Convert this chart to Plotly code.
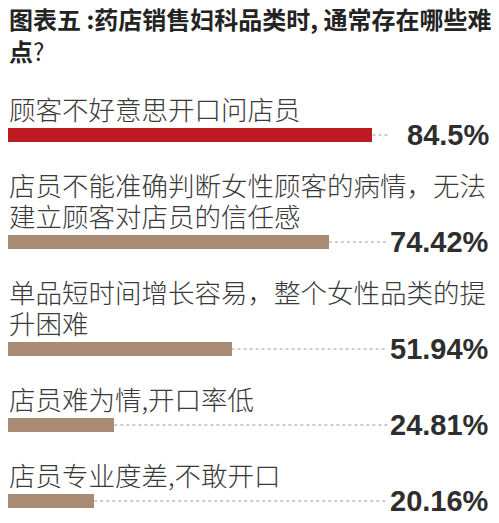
import plotly.graph_objects as go

# chart text and values
title_lines = ["图表五 :药店销售妇科品类时, 通常存在哪些难",
               "点<span style='font-weight:normal'>?</span>"]
categories = [
    "顾客不好意思开口问店员",
    "店员不能准确判断女性顾客的病情，无法<br>建立顾客对店员的信任感",
    "单品短时间增长容易，整个女性品类的提<br>升困难",
    "店员难为情,开口率低",
    "店员专业度差,不敢开口",
]
values = [84.5, 74.42, 51.94, 24.81, 20.16]
value_labels = ["84.5%", "74.42%", "51.94%", "24.81%", "20.16%"]

W, H = 499, 523
pad = 8  # page body margin around the figure
FW, FH = W - 2 * pad, H - 2 * pad

px_per_pct = 4.325
x0_px = 7  # where 0% sits in the page
x_lo = (pad - x0_px) / px_per_pct
x_hi = (pad + FW - x0_px) / px_per_pct
dot_end = (388 - x0_px) / px_per_pct


def px(xp):
    # page x pixel -> paper fraction
    return (xp - pad) / FW


# vertical layout in page pixels (y axis runs top to bottom)
line_h = 31.5
bar_y = []
y = 135
for i, cat in enumerate(categories):
    n = cat.count("<br>") + 1
    if i > 0:
        y += 45 + 31 * n
    bar_y.append(y)

colors = ["#bd1a22"] + ["#a98b74"] * (len(values) - 1)

fig = go.Figure()
fig.add_trace(go.Bar(
    x=values, y=bar_y, orientation="h", width=13.5,
    marker=dict(color=colors, line=dict(width=0)),
    hoverinfo="skip", showlegend=False,
))

annotations = []
# title
for k, t in enumerate(title_lines):
    annotations.append(dict(
        x=px(7), xref="paper", xanchor="left",
        y=18.5 + k * 32, yref="y", yanchor="middle",
        text=t, showarrow=False,
        font=dict(family="Noto Sans CJK SC", size=24, color="#232323", weight="bold"),
    ))

shapes = []
for cat, v, lab, by in zip(categories, values, value_labels, bar_y):
    lines = cat.split("<br>")
    for k, ln in enumerate(lines):
        ly = by - 26.5 - line_h * (len(lines) - 1 - k)
        annotations.append(dict(
            x=px(7), xref="paper", xanchor="left",
            y=ly, yref="y", yanchor="middle",
            text=ln, showarrow=False,
            font=dict(family="Noto Sans CJK SC", size=26.5, color="#3a3a3a", weight=300),
        ))
    annotations.append(dict(
        x=px(491), xref="paper", xanchor="right",
        y=by - 0.5, yref="y", yanchor="middle",
        text=lab, showarrow=False,
        font=dict(family="Liberation Sans", size=29, color="#2e2e2e", weight="bold"),
    ))
    shapes.append(dict(
        type="line", x0=v, x1=dot_end, y0=by, y1=by, xref="x", yref="y",
        line=dict(color="#9a9a9a", width=1, dash="dot"),
    ))

fig.update_layout(
    width=FW, height=FH,
    margin=dict(l=0, r=0, t=0, b=0),
    paper_bgcolor="white", plot_bgcolor="white",
    xaxis=dict(range=[x_lo, x_hi], visible=False, fixedrange=True),
    yaxis=dict(range=[pad + FH, pad], visible=False, fixedrange=True),
    annotations=annotations, shapes=shapes,
    bargap=0,
)

fig.write_html("out.html")
